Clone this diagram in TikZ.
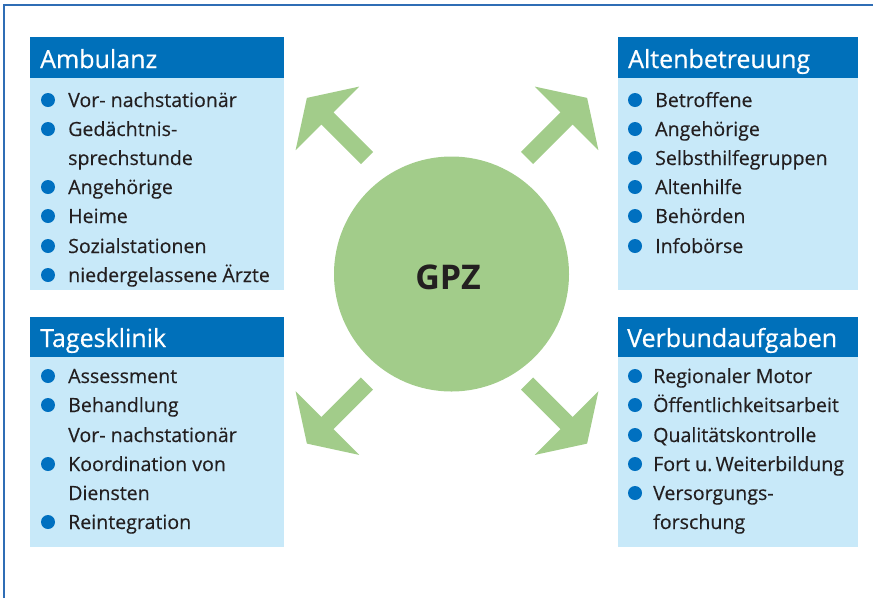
\documentclass[tikz,border=0pt]{standalone}
\usepackage{fontspec}
\setmainfont{Open Sans}
\newfontfamily\hdrfont[FakeBold=0.6]{Open Sans}
\newfontfamily\itemfont[FakeBold=0.25]{Open Sans}
\definecolor{hdrblue}{HTML}{0070BA}
\definecolor{bodyblue}{HTML}{C8E9F9}
\definecolor{dotblue}{HTML}{0070C0}
\definecolor{framblue}{HTML}{2F6DB5}
\definecolor{gpzgreen}{HTML}{A2CC8A}
\definecolor{txt}{HTML}{231F20}
\begin{document}
\begin{tikzpicture}[x=1pt,y=-1pt,
  hdr/.style={fill=hdrblue,draw=none},
  bodybox/.style={fill=bodyblue,draw=none},
  hdrtext/.style={anchor=base west,inner sep=0pt,text=white,font=\hdrfont\fontsize{25}{25}\selectfont},
  item/.style={anchor=base west,inner sep=0pt,text=txt,font=\itemfont\fontsize{19.6}{19.6}\selectfont},
  dot/.style={circle,fill=dotblue,inner sep=0pt,minimum size=14pt},
  greenarrow/.style={fill=gpzgreen,draw=none}]
\useasboundingbox (0,0) rectangle (873,598);
% frame
\draw[framblue,line width=1.5pt] (4,598) -- (4,5) -- (873,5);
% boxes
\fill[hdr] (30,37) rectangle (284,78);
\fill[bodybox] (30,78) rectangle (284,290);
\fill[hdr] (618,37) rectangle (858,78);
\fill[bodybox] (618,78) rectangle (858,290);
\fill[hdr] (30,317) rectangle (284,357);
\fill[bodybox] (30,357) rectangle (284,547);
\fill[hdr] (618,317) rectangle (858,357);
\fill[bodybox] (618,357) rectangle (858,547);
% headers
\node[hdrtext] (h1) at (40,68) {Ambulanz};
\node[hdrtext] (h2) at (628,68) {Altenbetreuung};
\node[hdrtext] (h3) at (40,347) {Tagesklinik};
\node[hdrtext] (h4) at (627,347) {Verbundaufgaben};
% Ambulanz
\node[dot] (a1d) at (48,100) {};
\node[item] (a1) at (68,107) {Vor- nachstationär};
\node[dot] (a2d) at (48,129) {};
\node[item] (a2) at (68,136) {Gedächtnis-};
\node[item] (a2b) at (68,165) {sprechstunde};
\node[dot] (a3d) at (48,187) {};
\node[item] (a3) at (68,194) {Angehörige};
\node[dot] (a4d) at (48,216) {};
\node[item] (a4) at (68,223) {Heime};
\node[dot] (a5d) at (48,246) {};
\node[item] (a5) at (68,253) {Sozialstationen};
\node[dot] (a6d) at (48,275) {};
\node[item] (a6) at (68,282) {niedergelassene Ärzte};
% Altenbetreuung
\node[dot] (b1d) at (635,100) {};
\node[item] (b1) at (655,107) {Betroffene};
\node[dot] (b2d) at (635,129) {};
\node[item] (b2) at (655,136) {Angehörige};
\node[dot] (b3d) at (635,158) {};
\node[item] (b3) at (655,165) {Selbsthilfegruppen};
\node[dot] (b4d) at (635,187) {};
\node[item] (b4) at (655,194) {Altenhilfe};
\node[dot] (b5d) at (635,216) {};
\node[item] (b5) at (655,223) {Behörden};
\node[dot] (b6d) at (635,246) {};
\node[item] (b6) at (655,253) {Infobörse};
% Tagesklinik
\node[dot] (c1d) at (48,376) {};
\node[item] (c1) at (68,383) {Assessment};
\node[dot] (c2d) at (48,405) {};
\node[item] (c2) at (68,412) {Behandlung};
\node[item] (c2b) at (68,442) {Vor- nachstationär};
\node[dot] (c3d) at (48,464) {};
\node[item] (c3) at (68,471) {Koordination von};
\node[item] (c3b) at (68,500) {Diensten};
\node[dot] (c4d) at (48,522) {};
\node[item] (c4) at (68,529) {Reintegration};
% Verbundaufgaben
\node[dot] (d1d) at (635,376) {};
\node[item] (d1) at (653,383) {Regionaler Motor};
\node[dot] (d2d) at (635,405) {};
\node[item] (d2) at (653,412) {Öffentlichkeitsarbeit};
\node[dot] (d3d) at (635,435) {};
\node[item] (d3) at (653,442) {Qualitätskontrolle};
\node[dot] (d4d) at (635,464) {};
\node[item] (d4) at (653,471) {Fort u.\,Weiterbildung};
\node[dot] (d5d) at (635,493) {};
\node[item] (d5) at (653,500) {Versorgungs-};
\node[item] (d5b) at (653,529) {forschung};
% circle
\node[circle,fill=gpzgreen,minimum size=235pt,inner sep=0pt] (gpz) at (451.5,274) {};
\node[text=txt,font=\fontsize{34}{34}\selectfont\bfseries] (gpzt) at (448,277) {GPZ};
% arrows
\foreach \sx/\sy/\ang in {367/158/135, 527/158/45, 367/383.5/225, 527/383.5/315}{
  \begin{scope}[shift={(\sx,\sy)},rotate=\ang]
    \fill[greenarrow] (0,-8.5) -- (56,-8.5) -- (56,-45) -- (85,0) -- (56,45) -- (56,8.5) -- (0,8.5) -- cycle;
  \end{scope}
}
\end{tikzpicture}
\end{document}
